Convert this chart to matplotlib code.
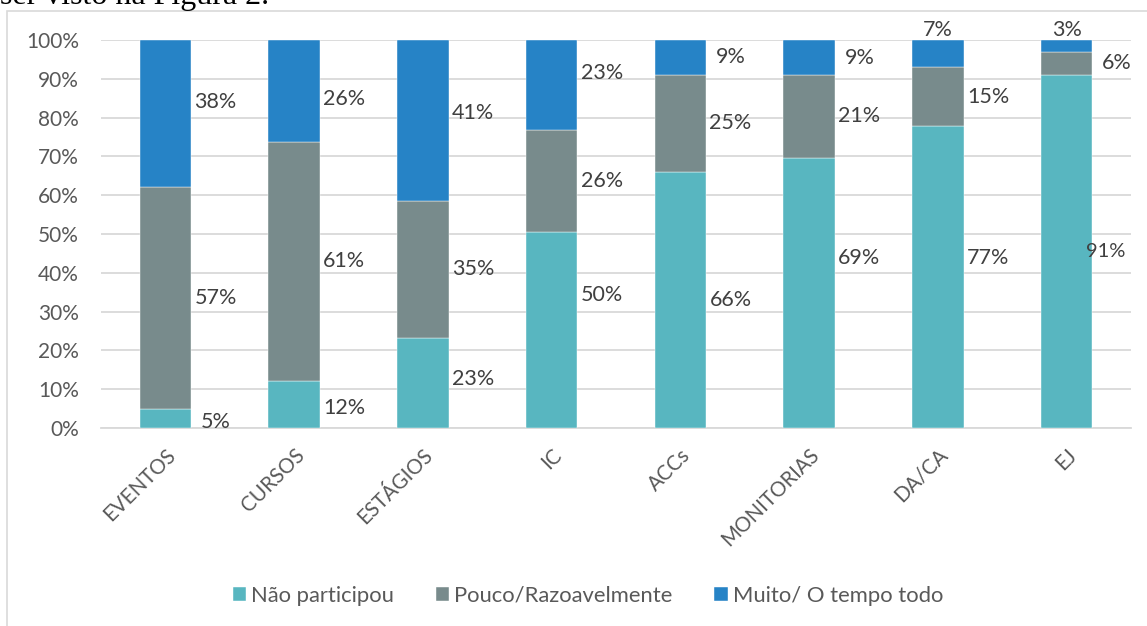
import matplotlib
matplotlib.use("Agg")
import matplotlib.pyplot as plt
from matplotlib.patches import Rectangle
import numpy as np

categories = ["EVENTOS", "CURSOS", "ESTÁGIOS", "IC", "ACCs", "MONITORIAS", "DA/CA", "EJ"]
nao_participou = [5, 12, 23, 50, 66, 69, 77, 91]
pouco = [57, 61, 35, 26, 25, 21, 15, 6]
muito = [38, 26, 41, 23, 9, 9, 7, 3]
series_names = ["Não participou", "Pouco/Razoavelmente", "Muito/ O tempo todo"]
colors = ["#58B6C0", "#788B8C", "#2683C6"]
yticks = [0, 10, 20, 30, 40, 50, 60, 70, 80, 90, 100]

# small manual nudges of some data labels (in % units), as in the source chart
label_nudge = {(0, 3): 9, (0, 5): 9, (0, 6): 5, (2, 3): 3, (2, 0): 3,
               (2, 1): -2, (2, 2): 2, (1, 2): 0, (0, 0): -1, (0, 1): -1, (0, 2): 1}

plt.rcParams['font.family'] = ['Lato', 'DejaVu Sans']

W, H = 1147, 626
fig = plt.figure(figsize=(W / 100, H / 100), dpi=100)

# chart frame
fig.patches.append(Rectangle((7 / W, -0.05), 1.2, 1 - 11 / H + 0.05, transform=fig.transFigure,
                             fill=False, edgecolor="#D9D9D9", linewidth=1.2))
# document text above chart (clipped at the top in the source)
fig.text(0.0, 1 - 4 / H, "ser visto na Figura 2.", family="Liberation Serif", fontsize=23,
         color="black", va="baseline", ha="left")

ax = fig.add_axes([101 / W, 1 - 428 / H, 1030 / W, 388 / H])

data = np.array([nao_participou, pouco, muito], dtype=float)
totals = data.sum(axis=0)
frac = data / totals * 100
x = np.arange(len(categories))
bw = 0.4
bottom = np.zeros(len(categories))
n = len(categories)
for i in range(3):
    ax.bar(x, frac[i], bw, bottom=bottom, color=colors[i], label=series_names[i],
           edgecolor="white", linewidth=0.3, zorder=3)
    for j in range(n):
        val = int(data[i, j])
        yc = bottom[j] + frac[i, j] / 2 + label_nudge.get((i, j), 0)
        if i == 2 and frac[i, j] < 8:
            ax.text(x[j] + 0.0, 102.5, f"{val}%", ha="center", va="center",
                    fontsize=15.5, color="#404040", zorder=4, clip_on=False)
        elif i == 0 and j == n - 1:
            ax.text(x[j] + 0.30, yc, f"{val}%", ha="center", va="center",
                    fontsize=14.5, color="#404040", zorder=4)
        else:
            ax.text(x[j] + 0.39, yc, f"{val}%", ha="center", va="center",
                    fontsize=15.5, color="#404040", zorder=4)
    bottom += frac[i]

ax.set_xlim(-0.5, n - 0.5)
ax.set_ylim(0, 100)
ax.set_yticks(yticks)
ax.set_yticklabels([f"{v}%" for v in yticks], fontsize=15, color="#595959")
ax.set_xticks(x)
ax.set_xticklabels(categories, rotation=45, ha="right", rotation_mode="anchor",
                   fontsize=14.8, color="#595959")
ax.tick_params(axis="both", length=0)
ax.tick_params(axis="y", pad=16)
ax.tick_params(axis="x", pad=12)
ax.grid(axis="y", color="#D9D9D9", linewidth=1.3, zorder=0)
for s in ["top", "right", "left"]:
    ax.spines[s].set_visible(False)
ax.spines["bottom"].set_color("#D9D9D9")
ax.spines["bottom"].set_linewidth(1.3)

leg = fig.legend(loc="center", bbox_to_anchor=(588 / W, 1 - 596 / H), ncol=3, frameon=False,
                 fontsize=15.8, handlelength=0.6, handleheight=0.6, handletextpad=0.25,
                 columnspacing=1.9)
for t in leg.get_texts():
    t.set_color("#595959")

fig.savefig("out.png", dpi=100)
